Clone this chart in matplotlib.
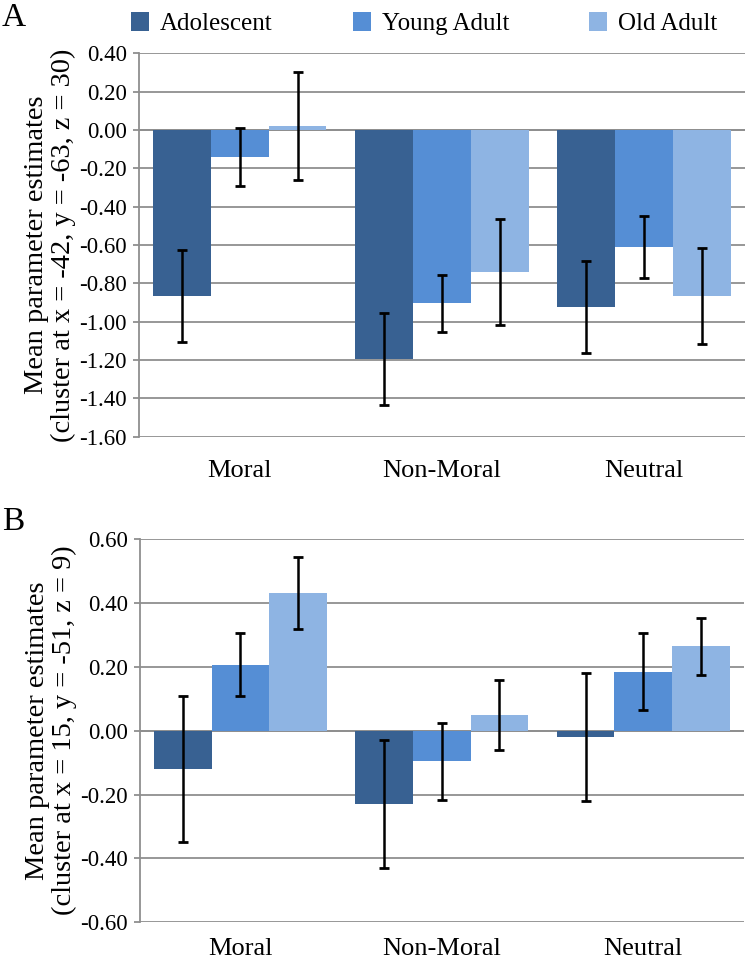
import matplotlib
matplotlib.use("Agg")
import matplotlib.pyplot as plt
from matplotlib.patches import Patch
import numpy as np

plt.rcParams['font.family'] = ['Liberation Serif', 'DejaVu Serif']

categories = ["Moral", "Non-Moral", "Neutral"]
groups = ["Adolescent", "Young Adult", "Old Adult"]
colors = ["#386192", "#558ED5", "#8EB4E3"]

# Panel A values (cluster at x = -42, y = -63, z = 30)
a_adolescent = [-0.865, -1.195, -0.925]
a_young = [-0.14, -0.905, -0.61]
a_old = [0.02, -0.74, -0.865]
a_err_adolescent = [0.24, 0.238, 0.24]
a_err_young = [0.15, 0.15, 0.16]
a_err_old = [0.28, 0.277, 0.25]
a_ticks = [0.40, 0.20, 0.00, -0.20, -0.40, -0.60, -0.80, -1.00, -1.20, -1.40, -1.60]

# Panel B values (cluster at x = 15, y = -51, z = 9)
b_adolescent = [-0.12, -0.23, -0.02]
b_young = [0.207, -0.096, 0.185]
b_old = [0.431, 0.049, 0.264]
b_err_adolescent = [0.228, 0.20, 0.20]
b_err_young = [0.10, 0.12, 0.12]
b_err_old = [0.113, 0.109, 0.089]
b_ticks = [0.60, 0.40, 0.20, 0.00, -0.20, -0.40, -0.60]

ylabel_a = "Mean parameter estimates\n(cluster at x = -42, y = -63, z = 30)"
ylabel_b = "Mean parameter estimates\n(cluster at x = 15, y = -51, z = 9)"

W, H = 749, 961
fig = plt.figure(figsize=(W / 100, H / 100), dpi=100)

def fmt(v):
    if abs(v) < 1e-9:
        v = 0.0
    return f"{v:.2f}"

def draw_panel(ax, vals, errs, ticks, xpad):
    x = np.arange(len(categories))
    bw = 0.286
    offsets = [-bw, 0, bw]
    for v, e, off, c in zip(vals, errs, offsets, colors):
        ax.bar(x + off, v, width=bw, color=c, zorder=3, linewidth=0)
        ax.errorbar(x + off, v, yerr=e, fmt='none', ecolor='black',
                    elinewidth=1.8, capsize=3.6, capthick=2.0, zorder=4)
    ax.set_xlim(-0.5, len(categories) - 0.5)
    ax.set_ylim(min(ticks), max(ticks))
    ax.set_yticks(ticks)
    ax.set_yticklabels([fmt(t) for t in ticks])
    ax.set_xticks(x)
    ax.set_xticklabels(categories)
    ax.grid(axis='y', color='#8f8f8f', linewidth=1.3, zorder=0)
    ax.set_axisbelow(True)
    for s in ['top', 'right', 'bottom']:
        ax.spines[s].set_visible(False)
    ax.spines['left'].set_color('#8f8f8f')
    ax.spines['left'].set_linewidth(1.3)
    ax.tick_params(axis='y', colors='#8f8f8f', labelcolor='black',
                   length=4.5, width=1.3, labelsize=16.5, pad=4)
    ax.tick_params(axis='x', length=0, labelsize=19, pad=xpad)
    ax.axhline(0, color='#8f8f8f', linewidth=1.3, zorder=2)

axA = fig.add_axes([138.7 / W, 1 - 436.7 / H, (745 - 138.7) / W, (436.7 - 53.3) / H])
draw_panel(axA, [a_adolescent, a_young, a_old],
           [a_err_adolescent, a_err_young, a_err_old], a_ticks, 17)
axA.set_ylabel(ylabel_a, fontsize=20.5, linespacing=1.12, labelpad=2)

axB = fig.add_axes([139.7 / W, 1 - 922.3 / H, (744 - 139.7) / W, (922.3 - 539) / H])
draw_panel(axB, [b_adolescent, b_young, b_old],
           [b_err_adolescent, b_err_young, b_err_old], b_ticks, 11)
axB.set_ylabel(ylabel_b, fontsize=20.5, linespacing=1.12, labelpad=2)

fig.text(2 / W, 1 - 3 / H, "A", fontsize=24, ha='left', va='top')
fig.text(2 / W, 1 - 507 / H, "B", fontsize=24, ha='left', va='top')

handles = [Patch(facecolor=c, edgecolor='none') for c in colors]
fig.legend(handles, groups, loc='upper center', bbox_to_anchor=(424 / W, 1 + 3 / H),
           ncol=3, frameon=False, fontsize=18, handlelength=0.74, handleheight=0.78,
           handletextpad=0.42, columnspacing=3.2, borderpad=0.1)

fig.savefig("out.png", dpi=100)
